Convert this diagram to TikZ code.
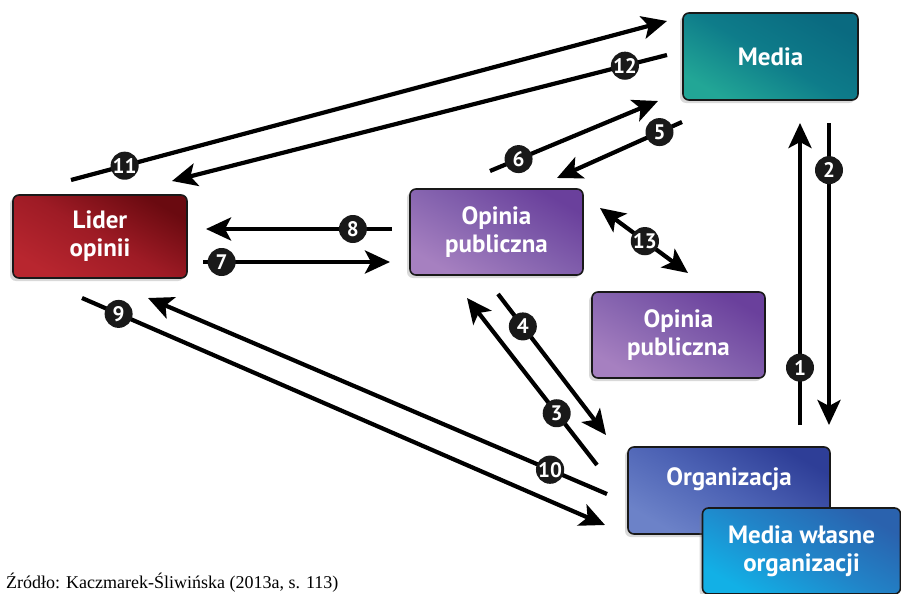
\documentclass[tikz,border=0pt]{standalone}
\usepackage{fontspec}
\setmainfont{Liberation Serif}
\newfontfamily\boxfont{PT Sans}
\usetikzlibrary{arrows.meta, shadows}

\definecolor{mediaDark}{HTML}{0A6A80}
\definecolor{mediaMid}{HTML}{0E7C8A}
\definecolor{mediaLight}{HTML}{22A696}
\definecolor{liderDark}{HTML}{6A0A10}
\definecolor{liderMid}{HTML}{9E1B25}
\definecolor{liderLight}{HTML}{B8262F}
\definecolor{opiniaDark}{HTML}{6A409C}
\definecolor{opiniaMid}{HTML}{8462AE}
\definecolor{opiniaLight}{HTML}{A680C0}
\definecolor{orgDark}{HTML}{2E3E97}
\definecolor{orgMid}{HTML}{4C62B4}
\definecolor{orgLight}{HTML}{6C82C8}
\definecolor{mwoDark}{HTML}{2A62AE}
\definecolor{mwoMid}{HTML}{2184C8}
\definecolor{mwoLight}{HTML}{12B0E6}

\begin{document}
\begin{tikzpicture}[
    x=0.5pt, y=-0.5pt,
    ->,
    >={Stealth[length=12.5pt, width=11.5pt, inset=3pt]},
    line width=2.1pt,
    box/.style={rectangle, draw=black!90, line width=0.8pt, rounded corners=3pt,
      text=white, align=center, font=\boxfont\bfseries\fontsize{12.5}{14}\selectfont,
      drop shadow={shadow xshift=-1.5pt, shadow yshift=-1.5pt, opacity=0.3}},
    badge/.style={circle, fill=black!90, text=white, inner sep=0pt, minimum size=14pt,
      font=\boxfont\bfseries\fontsize{10.5}{11}\selectfont},
    shadeMedia/.style={bottom color=mediaLight, top color=mediaDark, middle color=mediaMid, shading angle=-30},
    shadeLider/.style={bottom color=liderLight, top color=liderDark, middle color=liderMid, shading angle=-30},
    shadeOpinia/.style={bottom color=opiniaLight, top color=opiniaDark, middle color=opiniaMid, shading angle=-30},
    shadeOrg/.style={bottom color=orgLight, top color=orgDark, middle color=orgMid, shading angle=-30},
    shadeMwo/.style={bottom color=mwoLight, top color=mwoDark, middle color=mwoMid, shading angle=-30}
  ]
  \useasboundingbox (0,0) rectangle (901,594);

  % --- BLOKI ---
  \node[box, shadeMedia, minimum width=87.5pt, minimum height=43.5pt] (media) at (770.5,56.5) {Media};
  \node[box, shadeLider, minimum width=87pt, minimum height=41.5pt] (lider) at (100,236.5) {Lider\\opinii};
  \node[box, shadeOpinia, minimum width=86.5pt, minimum height=43pt] (opinia) at (496.5,232) {Opinia\\publiczna};
  \node[box, shadeOpinia, minimum width=86.5pt, minimum height=43pt] (opinia2) at (678.5,335) {Opinia\\publiczna};
  \node[box, shadeOrg, minimum width=101pt, minimum height=43.5pt,
        inner ysep=10pt, text height=9pt, text depth=14.5pt] (org) at (729,490.5) {Organizacja};
  \node[box, shadeMwo, minimum width=99pt, minimum height=43pt] (mwo) at (801.5,551) {Media własne\\organizacji};

  % --- KONCE STRZALEK ---
  \coordinate (s11) at (71,180);   \coordinate (e11) at (667,21);
  \coordinate (s12) at (667,55);   \coordinate (e12) at (172,181);
  \coordinate (s6) at (490,171);   \coordinate (e6) at (658,101);
  \coordinate (s5) at (682,122);   \coordinate (e5) at (557,178);
  \coordinate (s8) at (392,229);   \coordinate (e8) at (206,229);
  \coordinate (s7) at (203,262);   \coordinate (e7) at (390,262);
  \coordinate (s13) at (600,208);  \coordinate (e13) at (688,273);
  \coordinate (s4) at (498,294);   \coordinate (e4) at (606,435);
  \coordinate (s3) at (597,465);   \coordinate (e3) at (467,298);
  \coordinate (s9) at (82,298);    \coordinate (e9) at (605,525);
  \coordinate (s10) at (607,494);  \coordinate (e10) at (148,298);
  \coordinate (s1) at (800,425);   \coordinate (e1) at (800,123);
  \coordinate (s2) at (829,123);   \coordinate (e2) at (829,425);

  % --- STRZALKI ---
  % lider <-> media
  \path (s11) edge node[badge, pos=.09] {11} (e11);
  \path (s12) edge node[badge, pos=.085] {12} (e12);

  % opinia <-> media
  \path (s6) edge node[badge, pos=.17] {6} (e6);
  \path (s5) edge node[badge, pos=.18] {5} (e5);

  % lider <-> opinia
  \path (s8) edge node[badge, pos=.21] {8} (e8);
  \path (s7) edge node[badge, pos=.10] {7} (e7);

  % opinia <-> opinia
  \path (s13) edge[<->] node[badge, pos=.51] {13} (e13);

  % opinia <-> organizacja
  \path (s4) edge node[badge, pos=.23] {4} (e4);
  \path (s3) edge node[badge, pos=.31] {3} (e3);

  % lider <-> organizacja
  \path (s9) edge node[badge, pos=.07] {9} (e9);
  \path (s10) edge node[badge, pos=.124] {10} (e10);

  % organizacja <-> media
  \path (s1) edge node[badge, pos=.19] {1} (e1);
  \path (s2) edge node[badge, pos=.156] {2} (e2);

  % --- ZRODLO ---
  \node[anchor=base west, inner sep=0pt, font=\fontsize{9}{10}\selectfont] (zrodlo) at (4,588)
    {Źródło: Kaczmarek-Śliwińska (2013a, s. 113)};

\end{tikzpicture}
\end{document}
